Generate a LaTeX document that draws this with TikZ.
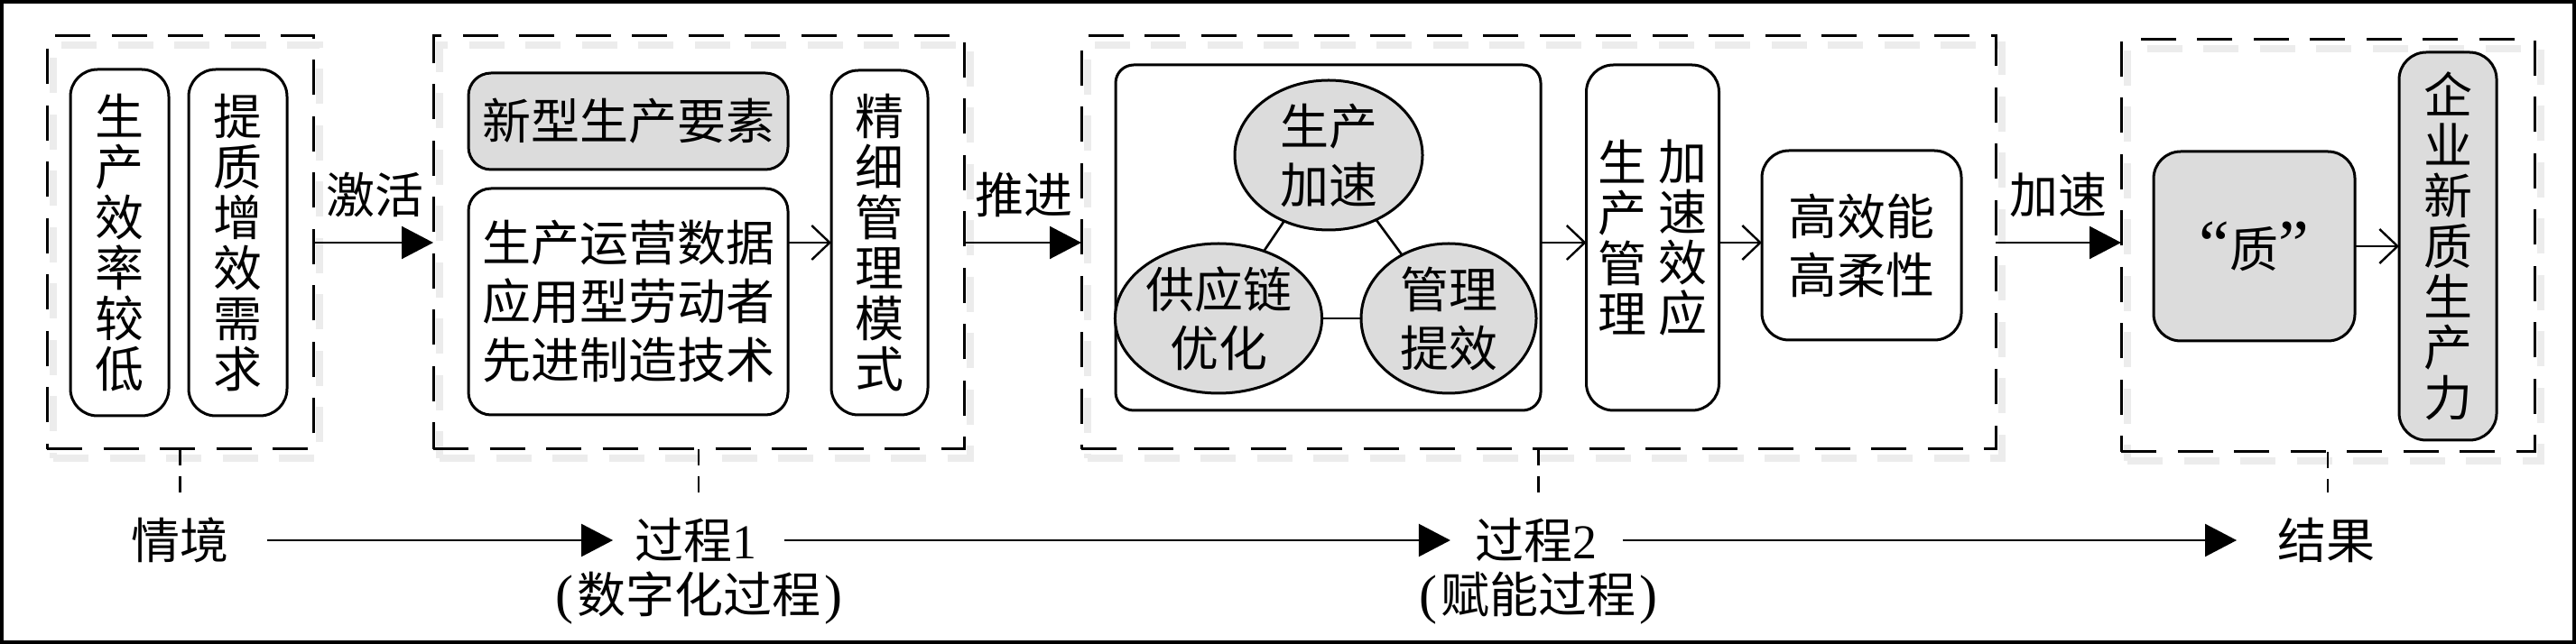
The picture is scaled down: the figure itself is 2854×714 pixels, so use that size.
\documentclass[tikz,border=0pt]{standalone}
\usepackage{fontspec}
\setmainfont{Liberation Serif}
\newfontfamily\cjk{Noto Sans CJK SC}
\usetikzlibrary{arrows.meta,shapes.geometric,calc}
\definecolor{boxgray}{RGB}{220,220,220}
\definecolor{shadgray}{RGB}{236,236,236}
\tikzset{
  every node/.style={inner sep=0pt, outer sep=0pt},
  sz/.style 2 args={minimum width=#1*0.25pt, minimum height=#2*0.25pt},
  bx/.style={draw, line width=0.75pt, rounded corners=7.5pt},
  gbx/.style={bx, fill=boxgray},
  dbox/.style={draw, line width=0.75pt, dash pattern=on 9.75pt off 5.875pt},
  dshad/.style={draw=shadgray, line width=1.8pt, dash pattern=on 9.75pt off 5.875pt},
  ell/.style={draw, ellipse, fill=boxgray, line width=0.75pt},
  arr/.style={line width=0.6pt, -{Triangle[length=8.75pt,width=9pt]}},
  oarr/.style={line width=0.6pt, -{Straight Barb[length=5pt,width=9.5pt]}},
  hz/.style={font=\fontsize{13.5}{16.25}\selectfont\cjk, align=center},
  vt/.style={font=\fontsize{13.5}{14}\selectfont\cjk, align=center},
  dconn/.style={line width=0.65pt, dash pattern=on 4.5pt off 3pt},
  link/.style={line width=0.65pt},
}
\begin{document}
\begin{tikzpicture}[x=0.25pt,y=-0.25pt]
\useasboundingbox (0,0) rectangle (2854,714);
\draw[line width=0.9pt] (2,2) rectangle (2852,712);

% shadows of dashed frames
\node[dshad, sz={295}{458}] (d1s) at (206.5,279) {};
\node[dshad, sz={588}{458}] (d2s) at (781,279) {};
\node[dshad, sz={1013}{458}] (d3s) at (1711.5,279) {};
\node[dshad, sz={458}{457}] (d4s) at (2586,282.5) {};

% dashed frames
\node[dbox, sz={295}{458}] (d1) at (199.5,269) {};
\node[dbox, sz={588}{458}] (d2) at (774,269) {};
\node[dbox, sz={1013}{458}] (d3) at (1704.5,269) {};
\node[dbox, sz={458}{457}] (d4) at (2579,272.5) {};

% frame 1
\node[bx, sz={109}{384}, vt] (b1) at (132.5,269) {生\\产\\效\\率\\较\\低};
\node[bx, sz={109}{384}, vt] (b2) at (263.5,269) {提\\质\\增\\效\\需\\求};

% frame 2
\node[gbx, sz={354}{107}, hz, rounded corners=6.25pt] (b3) at (696,134.5) {新型生产要素};
\node[bx, sz={354}{251}, hz, rounded corners=6.25pt] (b4) at (696,334.5) {生产运营数据\\应用型劳动者\\先进制造技术};
\node[bx, sz={107}{382}, vt] (b5) at (974.5,269) {精\\细\\管\\理\\模\\式};

% frame 3
\node[bx, sz={471}{383}, rounded corners=5pt] (b6) at (1471.5,263.5) {};
\node[ell, sz={208}{166}, hz] (e1) at (1472,172) {生产\\加速};
\node[ell, sz={215}{166}, hz] (e2) at (1350,353) {供应链\\优化};
\node[ell, sz={194}{166}, hz] (e3) at (1605,353) {管理\\提效};
\draw[link] (e1) -- (e2);
\draw[link] (e1) -- (e3);
\draw[link] (e2) -- (e3);
\node[bx, sz={147}{383}] (b7) at (1831,263.5) {};
\node[vt] (b7l) at (1797,263.5) {生\\产\\管\\理};
\node[vt] (b7r) at (1864,263.5) {加\\速\\效\\应};
\node[bx, sz={221}{210}, hz] (b8) at (2062.5,272) {高效能\\高柔性};

% frame 4
\node[gbx, sz={223}{210}, hz] (b9) at (2497.5,273) {{\rmfamily\fontsize{19}{19}\selectfont “}质{\rmfamily\fontsize{19}{19}\selectfont ”}};
\node[gbx, sz={108}{430}, vt] (b10) at (2712,273) {企\\业\\新\\质\\生\\产\\力};

% arrows between frames
\coordinate (my) at (0,269);
\draw[arr] (d1.east) -- (d2.west);
\node[hz] (l1) at (415,216) {激活};
\draw[oarr] (b4.east |- my) -- (b5.west |- my);
\draw[arr] (d2.east) -- (d3.west);
\node[hz] (l2) at (1134,216) {推进};
\draw[oarr] (b6.east |- my) -- (b7.west |- my);
\draw[oarr] (b7.east |- my) -- (b8.west |- my);
\draw[arr] (d3.east |- my) -- (d4.west |- my);
\node[hz] (l3) at (2280,216) {加速};
\draw[oarr] (b9.east) -- (b10.west);

% bottom timeline
\coordinate (cy) at (0,546);
\coordinate (k1) at (d1.south |- cy);
\coordinate (k2) at (d2.south |- cy);
\coordinate (k3) at (d3.south |- cy);
\coordinate (k4) at (d4.south |- cy);
\draw[dconn] (d1.south) -- (k1);
\draw[dconn] (d2.south) -- (k2);
\draw[dconn] (d3.south) -- (k3);
\draw[dconn] (d4.south) -- (k4);

\node[hz] (t1) at (199,599) {情境};
\node[hz] (t2) at (771,599) {过程{\rmfamily 1}};
\node[hz] (t2b) at (774,663) {{\rmfamily\fontsize{15}{15}\selectfont (\kern1pt}数字化过程{\rmfamily\fontsize{15}{15}\selectfont \kern1pt)}};
\node[hz] (t3) at (1702,599) {过程{\rmfamily 2}};
\node[hz] (t3b) at (1704,663) {{\rmfamily\fontsize{15}{15}\selectfont (\kern1pt}赋能过程{\rmfamily\fontsize{15}{15}\selectfont \kern1pt)}};
\node[hz] (t4) at (2577,599) {结果};

\draw[arr, shorten <=10.75pt, shorten >=6.1pt] (t1.east) -- (t2.west);
\draw[arr, shorten <=7.6pt, shorten >=6.9pt] (t2.east) -- (t3.west);
\draw[arr, shorten <=7.1pt, shorten >=11.25pt] (t3.east) -- (t4.west);
\end{tikzpicture}
\end{document}
